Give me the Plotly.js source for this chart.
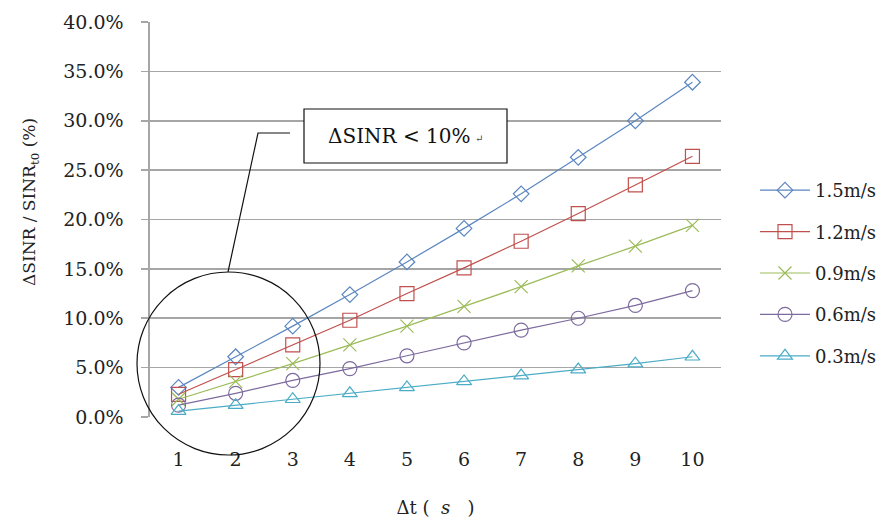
<!DOCTYPE html>
<html><head><meta charset="utf-8">
<script src="https://cdn.plot.ly/plotly-3.0.1.min.js"></script>
<style>body{margin:0;background:#fff}#c{width:894px;height:525px}</style>
</head><body><div id="c"></div>
<script>
const dt = [1,2,3,4,5,6,7,8,9,10];
const v15 = [3.0,6.1,9.2,12.4,15.7,19.1,22.6,26.3,30.0,33.9];
const v12 = [2.3,4.8,7.3,9.8,12.5,15.1,17.8,20.6,23.5,26.4];
const v09 = [1.8,3.6,5.4,7.3,9.2,11.2,13.2,15.3,17.3,19.4];
const v06 = [1.2,2.4,3.7,4.9,6.2,7.5,8.8,10.0,11.3,12.8];
const v03 = [0.6,1.2,1.8,2.4,3.0,3.6,4.2,4.8,5.4,6.1];
const names = ['1.5m/s','1.2m/s','0.9m/s','0.6m/s','0.3m/s'];
const series = [v15,v12,v09,v06,v03];
const colors = ['#5b86c0','#c0504d','#9bbb59','#7d6a9e','#4bacc6'];
const symbols = ['diamond-open','square-open','x-thin-open','circle-open','triangle-up-open'];
const sizes = [12,14,13,14,13];
const ytickvals = [0,5,10,15,20,25,30,35,40];
const yticktext = ytickvals.map(v=>v.toFixed(1)+'%');

const WIDE = "DejaVu Serif";

const traces = series.map((s,i)=>({
  x: dt, y: s, name: names[i], type:'scatter', mode:'lines+markers', legendgroup:'g'+i,
  line:{color:colors[i], width:1.2},
  marker:{symbol:symbols[i], size:sizes[i], color:colors[i], line:{width:1.2, color:colors[i]}}
}));

const L=150, R=721, T=22, B=417;
const px = x => (x-L)/(R-L);
const py = y => (B-y)/(B-T);

const layout = {
  width:894, height:525,
  margin:{l:150, r:894-721, t:22, b:525-417},
  paper_bgcolor:'#fff', plot_bgcolor:'#fff',
  font:{family:WIDE, size:18, color:'#222'},
  showlegend:true,
  legend:{x:px(755), xanchor:'left', y:py(172), yanchor:'top', tracegroupgap:15,
    font:{family:WIDE, size:18, color:'#222'}, itemwidth:50, bgcolor:'rgba(0,0,0,0)'},
  xaxis:{type:'linear', range:[0.5,10.5], tickvals:dt, ticktext:dt.map(String),
    showgrid:false, zeroline:false, showline:false, ticks:'', ticklabelstandoff:29,
    tickfont:{family:WIDE, size:19},
    title:{text:'Δt (&nbsp;&nbsp;<i>s</i>&nbsp;&nbsp;&nbsp;)', font:{family:WIDE, size:18}, standoff:32}},
  yaxis:{range:[0,40], tickvals:ytickvals, ticktext:yticktext,
    showgrid:true, gridcolor:'#a6a6a6', gridwidth:1.6, zeroline:false,
    showline:true, linecolor:'#a6a6a6', linewidth:1.6,
    ticks:'outside', ticklen:7, tickcolor:'#a6a6a6', tickwidth:1.6, ticklabelstandoff:14,
    tickfont:{family:WIDE, size:19}},
  shapes:[
    {type:'circle', xref:'paper', yref:'paper', x0:px(137), x1:px(320), y0:py(455), y1:py(272),
      line:{color:'#111', width:1.2}},
    {type:'path', xref:'paper', yref:'paper',
      path:`M ${px(228)} ${py(272)} L ${px(258)} ${py(133)} L ${px(290)} ${py(133)}`,
      line:{color:'#111', width:1.2}},
    {type:'rect', xref:'paper', yref:'paper', x0:px(304), x1:px(507), y0:py(163), y1:py(109),
      line:{color:'#111', width:1.2}, fillcolor:'#fff'}
  ],
  annotations:[
    {xref:'paper', yref:'paper', x:px(399), y:py(136), text:'ΔSINR &lt; 10%',
      showarrow:false, font:{family:WIDE, size:20, color:'#111'}, xanchor:'center', yanchor:'middle'},
    {xref:'paper', yref:'paper', x:px(473), y:py(138), text:'↵',
      showarrow:false, font:{family:WIDE, size:10, color:'#444'}, xanchor:'left', yanchor:'middle'},
    {xref:'paper', yref:'paper', x:px(30), y:py(202), text:'ΔSINR / SINR<sub>t0</sub> (%)',
      textangle:-90, showarrow:false, font:{family:WIDE, size:17, color:'#222'}, xanchor:'center', yanchor:'middle'}
  ]
};
Plotly.newPlot('c', traces, layout, {displayModeBar:false, staticPlot:true});
</script></body></html>
